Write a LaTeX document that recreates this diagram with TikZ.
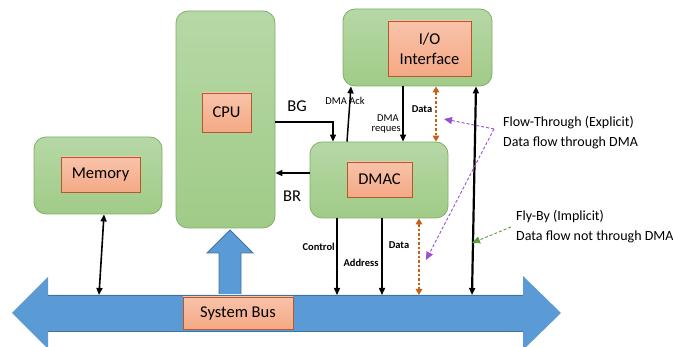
\documentclass[tikz,border=0pt]{standalone}
\usepackage{fontspec}
\setmainfont{Carlito}
\usetikzlibrary{arrows.meta}
\definecolor{grnTop}{HTML}{B6D8A6}
\definecolor{grnBot}{HTML}{A0CB87}
\definecolor{grnEdge}{HTML}{7FAE66}
\definecolor{orgTop}{HTML}{F8C3AA}
\definecolor{orgBot}{HTML}{F4A985}
\definecolor{orgEdge}{HTML}{B5582C}
\definecolor{busFill}{HTML}{5B9BD5}
\definecolor{busEdge}{HTML}{41719C}
\definecolor{dotOrange}{HTML}{C95F16}
\definecolor{ftPurple}{HTML}{9A4FD0}
\definecolor{fbGreen}{HTML}{5E9C3C}
\tikzset{
  unit/.style={draw=grnEdge, line width=0.8pt, top color=grnTop, bottom color=grnBot,
    rounded corners=12pt, inner sep=0pt},
  tag/.style={draw=orgEdge, line width=0.8pt, top color=orgTop, bottom color=orgBot,
    inner sep=0pt, font=\fontsize{16.5}{19}\selectfont, align=center},
  arr/.style={line width=1.5pt, -{Triangle[length=7pt,width=6pt]}},
  biarr/.style={line width=1.6pt, {Triangle[length=7pt,width=6pt]}-{Triangle[length=7pt,width=6pt]}},
  dotarr/.style={dotOrange, line width=2.8pt, dash pattern=on 2.5pt off 2pt,
    {Triangle[length=6pt,width=6.5pt]}-{Triangle[length=6pt,width=6.5pt]}},
  ftarr/.style={ftPurple, line width=0.9pt, dash pattern=on 3pt off 2pt,
    -{Triangle[length=8pt,width=7pt]}},
  fbarr/.style={fbGreen, line width=0.9pt, dash pattern=on 3pt off 2pt,
    -{Triangle[length=8pt,width=7pt]}},
  sig/.style={font=\fontsize{10.5}{12}\selectfont, inner sep=0pt},
  sigb/.style={font=\bfseries\fontsize{10.5}{12}\selectfont, inner sep=0pt},
  note/.style={font=\fontsize{14}{16}\selectfont, inner sep=0pt, anchor=west},
  ctl/.style={font=\fontsize{16.5}{19}\selectfont, inner sep=0pt}
}
\begin{document}
\begin{tikzpicture}[x=1pt,y=-1pt]
\useasboundingbox (0,0) rectangle (673,347);

% system bus: double-headed block arrow
\fill[busFill] (12,313) -- (48,277) -- (48,295) -- (523,295) -- (523,276)
  -- (561,313) -- (523,350) -- (523,331) -- (48,331) -- (48,349) -- cycle;
\draw[busEdge, line width=0.6pt] (48,295) -- (523,295) (48,331) -- (523,331);
\coordinate (bustop) at (0,295);

% bus to CPU block arrow
\draw[busEdge, fill=busFill, line width=0.8pt] (219,294) -- (219,253) -- (207,253)
  -- (230,230) -- (253,253) -- (241,253) -- (241,294);

% units
\node[unit, minimum width=99pt, minimum height=217pt] (cpu) at (225.5,119.5) {};
\node[tag, minimum width=49pt, minimum height=39pt] (cpulbl) at (226.5,112.5) {CPU};

\node[unit, minimum width=128pt, minimum height=77pt] (mem) at (98,175.5) {};
\node[tag, minimum width=79pt, minimum height=35pt] (memlbl) at (100.5,174.5) {Memory};

\node[unit, minimum width=138pt, minimum height=76pt] (dmac) at (379,180) {};
\node[tag, minimum width=65pt, minimum height=35pt] (dmaclbl) at (379.5,179.5) {DMAC};

\node[unit, minimum width=149pt, minimum height=77pt] (io) at (417.5,47.5) {};
\node[tag, minimum width=83pt, minimum height=55pt] (iolbl) at (429.5,48.5) {I/O\\[1pt]Interface};

\node[tag, minimum width=110pt, minimum height=32pt] (buslbl) at (238,313) {System Bus};

% CPU <-> DMAC handshake
\draw[arr] (cpu.east |- 0,122) -| (dmac.north -| 333,0);
\draw[arr] (dmac.west |- 0,173) -- (cpu.east |- 0,173);
\node[ctl] (bg) at (297,106) {BG};
\node[ctl] (br) at (292,196) {BR};

% DMAC <-> I/O
\draw[arr] (dmac.north -| 347,0) -- (io.south -| 351,0);
\draw[arr] (io.south -| 403,0) -- (dmac.north -| 403,0);
\draw[dotarr] (io.south -| 436,0) -- (dmac.north -| 436,0);
\node[sig] (ack) at (345,101) {DMA Ack};
\node[sig] (req1) at (388,118) {DMA};
\node[sig, anchor=east] (req2) at (401,130) {reques};
\node[sigb] (datatop) at (422,109) {Data};

% DMAC -> bus
\draw[arr] (dmac.south -| 337,0) -- (bustop -| 337,0);
\draw[arr] (dmac.south -| 382,0) -- (bustop -| 382,0);
\draw[dotarr] (dmac.south -| 419,0) -- (bustop -| 419,0);
\node[sigb, anchor=east] (ctrl) at (335,247) {Control};
\node[sigb] (addr) at (361,263) {Address};
\node[sigb] (databot) at (399,245) {Data};

% I/O <-> bus, memory <-> bus
\draw[line width=2.2pt, {Triangle[length=7pt,width=6pt]}-{Triangle[length=7pt,width=6pt]}]
  (io.south -| 476,0) -- (bustop -| 472,0);
\draw[biarr] (mem.south -| 104,0) -- (bustop -| 99,0);

% transfer mode notes
\node[note] (ftlbl) at (503,123) {Flow-Through (Explicit)};
\node[note] (ftdesc) at (503,143) {Data flow through DMA};
\node[note] (fblbl) at (516,217) {Fly-By (Implicit)};
\node[note] (fbdesc) at (516,237) {Data flow not through DMA};

\coordinate (ftpt) at (494,129);
\coordinate (ftend1) at (444,119);
\coordinate (ftend2) at (426,260);
\draw[ftarr] (ftpt) -- (ftend1);
\draw[ftarr] (ftpt) -- (ftend2);
\coordinate (fbpt) at (511,227);
\coordinate (fbend) at (472,243);
\draw[fbarr] (fbpt) -- (fbend);
\end{tikzpicture}
\end{document}
